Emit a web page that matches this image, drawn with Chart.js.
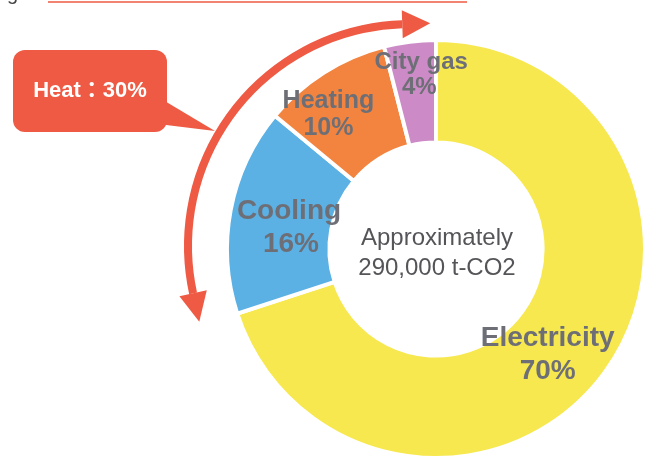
<!DOCTYPE html>
<html>
<head>
<meta charset="utf-8">
<script src="https://cdn.jsdelivr.net/npm/chart.js@4.4.1/dist/chart.umd.min.js"></script>
<style>
    html, body { margin: 0; padding: 0; background: #ffffff; }
    #wrap { position: relative; width: 645px; height: 457px; }
</style>
</head>
<body>
<div id="wrap"><canvas id="co2-chart" width="645" height="457"></canvas></div>
<script>
// chart data
const categories = ['Electricity', 'Cooling', 'Heating', 'City gas'];
const shares = [70, 16, 10, 4];
const sliceColors = ['#F6E84E', '#5BB0E4', '#F2843F', '#CC8BC7'];
const centerLines = ['Approximately', '290,000 t-CO2'];
const heatShare = shares[1] + shares[2] + shares[3];

// label placement relative to each slice centroid: dx, dy of first baseline, font size, line gap, dx of 2nd line
const labelTweaks = [
    { dx: -16, dy: 4, size: 28, gap: 33, dx2: 0 },
    { dx: 8, dy: 0, size: 28, gap: 33, dx2: 2 },
    { dx: -23, dy: -8, size: 25, gap: 27, dx2: 0 },
    { dx: 5, dy: -23, size: 24, gap: 25, dx2: -2 }
];

const labelColor = '#6E6F76';
const red = '#EE5A44';
const fontFamily = '"Liberation Sans", Arial, "Noto Sans CJK JP", sans-serif';

function drawArrowHead(ctx, x, y, dirX, dirY, len, half) {
    const nx = -dirY, ny = dirX;
    ctx.beginPath();
    ctx.moveTo(x + dirX * len, y + dirY * len);
    ctx.lineTo(x + nx * half, y + ny * half);
    ctx.lineTo(x - nx * half, y - ny * half);
    ctx.closePath();
    ctx.fill();
}

const decorations = {
    id: 'decorations',
    beforeDraw(chart) {
        const ctx = chart.ctx;
        ctx.save();

        // cut off title at the very top
        ctx.fillStyle = '#444';
        ctx.font = '20px ' + fontFamily;
        ctx.textAlign = 'left';
        ctx.textBaseline = 'alphabetic';
        ctx.fillText('g', 7, 0);
        ctx.strokeStyle = red;
        ctx.lineWidth = 1.5;
        ctx.beginPath();
        ctx.moveTo(48, 2);
        ctx.lineTo(467, 2);
        ctx.stroke();

        // curved double arrow
        const ax = 410, ay = 246, ar = 222;
        const a0 = 167.7 * Math.PI / 180;
        const a1 = 268 * Math.PI / 180;
        ctx.strokeStyle = red;
        ctx.fillStyle = red;
        ctx.lineWidth = 8;
        ctx.beginPath();
        ctx.arc(ax, ay, ar, a0, a1);
        ctx.stroke();
        drawArrowHead(ctx, ax + ar * Math.cos(a0), ay + ar * Math.sin(a0), Math.sin(a0), -Math.cos(a0), 29, 14);
        drawArrowHead(ctx, ax + ar * Math.cos(a1), ay + ar * Math.sin(a1), -Math.sin(a1), Math.cos(a1), 28, 14);

        // callout box
        ctx.beginPath();
        ctx.roundRect(13, 50, 154, 82, 12);
        ctx.fill();
        ctx.beginPath();
        ctx.moveTo(158, 97);
        ctx.lineTo(215, 131);
        ctx.lineTo(158, 124);
        ctx.closePath();
        ctx.fill();
        ctx.fillStyle = '#ffffff';
        ctx.font = 'bold 22px ' + fontFamily;
        ctx.textAlign = 'center';
        ctx.fillText('Heat\uFF1A' + heatShare + '%', 90, 97);

        ctx.restore();
    },
    afterDatasetsDraw(chart) {
        const ctx = chart.ctx;
        const meta = chart.getDatasetMeta(0);
        ctx.save();
        ctx.textAlign = 'center';
        ctx.textBaseline = 'alphabetic';

        meta.data.forEach((arc, i) => {
            const p = arc.tooltipPosition();
            const t = labelTweaks[i];
            ctx.fillStyle = labelColor;
            ctx.font = 'bold ' + t.size + 'px ' + fontFamily;
            ctx.fillText(categories[i], p.x + t.dx, p.y + t.dy);
            ctx.fillText(shares[i] + '%', p.x + t.dx + t.dx2, p.y + t.dy + t.gap);
        });

        const cx = meta.data[0].x, cy = meta.data[0].y;
        ctx.fillStyle = '#555559';
        ctx.font = '24px ' + fontFamily;
        ctx.fillText(centerLines[0], cx + 1, cy - 4);
        ctx.fillText(centerLines[1], cx + 1, cy + 26);
        ctx.restore();
    }
};

const ctx = document.getElementById('co2-chart').getContext('2d');
new Chart(ctx, {
    type: 'doughnut',
    data: {
        labels: categories,
        datasets: [{
            data: shares,
            backgroundColor: sliceColors,
            borderColor: '#ffffff',
            borderWidth: 4,
            radius: 209,
            hoverOffset: 0
        }]
    },
    options: {
        responsive: false,
        animation: false,
        cutout: '51%',
        layout: {
            padding: { left: 227, right: 0, top: 41, bottom: 0 }
        },
        plugins: {
            legend: { display: false },
            tooltip: { enabled: false }
        }
    },
    plugins: [decorations]
});
</script>
</body>
</html>
